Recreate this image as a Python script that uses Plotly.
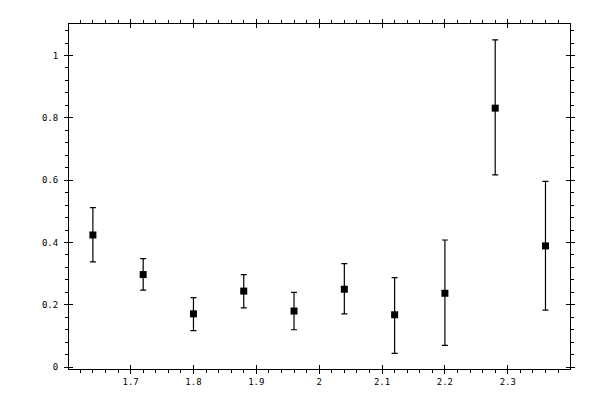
import plotly.graph_objects as go

x_vals = [1.64, 1.72, 1.80, 1.88, 1.96, 2.04, 2.12, 2.20, 2.28, 2.36]
y_vals = [0.424, 0.297, 0.171, 0.244, 0.180, 0.250, 0.168, 0.237, 0.831, 0.389]
y_upper = [0.512, 0.348, 0.223, 0.297, 0.240, 0.332, 0.287, 0.408, 1.050, 0.596]
y_lower = [0.338, 0.247, 0.117, 0.190, 0.120, 0.171, 0.044, 0.070, 0.617, 0.183]

x_ticks = [1.7, 1.8, 1.9, 2.0, 2.1, 2.2, 2.3]
x_labels = ['1.7', '1.8', '1.9', '2', '2.1', '2.2', '2.3']
y_ticks = [0, 0.2, 0.4, 0.6, 0.8, 1.0]
y_labels = ['0', '0.2', '0.4', '0.6', '0.8', '1']

x_range = [1.602, 2.399]
y_range = [-0.006, 1.101]

err_plus = [u - v for u, v in zip(y_upper, y_vals)]
err_minus = [v - l for v, l in zip(y_vals, y_lower)]

fig = go.Figure()

fig.add_trace(go.Scatter(
    x=x_vals, y=y_vals, mode='markers',
    marker=dict(symbol='square', size=7, color='black'),
    error_y=dict(type='data', symmetric=False, array=err_plus, arrayminus=err_minus,
                 color='black', thickness=1.2, width=3),
    showlegend=False, hoverinfo='x+y'
))

# invisible trace so the inner-tick overlay axes get drawn
fig.add_trace(go.Scatter(x=[x_range[0]], y=[y_range[0]], xaxis='x2', yaxis='y2',
                         mode='markers', marker=dict(opacity=0), showlegend=False,
                         hoverinfo='skip'))

tick_font = dict(family='DejaVu Sans Mono', size=9, color='black')

fig.update_layout(
    width=600, height=400,
    margin=dict(l=61, r=38, t=11, b=39),
    paper_bgcolor='white', plot_bgcolor='white',
    xaxis=dict(range=x_range, tickvals=x_ticks, ticktext=x_labels,
               showgrid=False, zeroline=False, showline=True, linecolor='black',
               linewidth=1, mirror='ticks', ticks='outside', ticklen=4,
               tickcolor='black', tickwidth=1, tickfont=tick_font,
               minor=dict(dtick=0.02, tick0=1.6, ticks='outside', ticklen=3,
                          tickcolor='black', showgrid=False)),
    yaxis=dict(range=y_range, tickvals=y_ticks, ticktext=y_labels,
               showgrid=False, zeroline=False, showline=True, linecolor='black',
               linewidth=1, mirror='ticks', ticks='outside', ticklen=4,
               tickcolor='black', tickwidth=1, tickfont=tick_font,
               ticklabelstandoff=4,
               minor=dict(dtick=0.04, tick0=0, ticks='outside', ticklen=3,
                          tickcolor='black', showgrid=False)),
    xaxis2=dict(range=x_range, tickvals=x_ticks, overlaying='x', showticklabels=False,
                showgrid=False, zeroline=False, showline=False, mirror='ticks',
                ticks='inside', ticklen=4, tickcolor='black', tickwidth=1),
    yaxis2=dict(range=y_range, tickvals=y_ticks, overlaying='y', showticklabels=False,
                showgrid=False, zeroline=False, showline=False, mirror='ticks',
                ticks='inside', ticklen=4, tickcolor='black', tickwidth=1),
)

fig.write_html("out.html")
